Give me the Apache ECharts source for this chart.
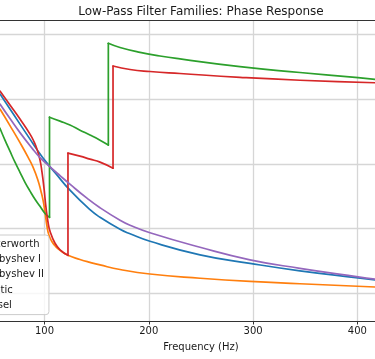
<!DOCTYPE html>
<html>
<head>
<meta charset="utf-8">
<script src="https://cdn.jsdelivr.net/npm/echarts@6/dist/echarts.min.js"></script>
<style>
html,body{margin:0;padding:0;background:#fff;}
#chart{width:375px;height:359px;}
</style>
</head>
<body>
<div id="chart"></div>
<script>
// Frequency (Hz) and unwrapped phase (rad)
var seriesNames = ['Butterworth', 'Chebyshev I', 'Chebyshev II', 'Elliptic', 'Bessel'];
var seriesColors = ['#1f77b4', '#ff7f0e', '#2ca02c', '#d62728', '#9467bd'];

var butterFreq  = [57.3, 66.9, 76.5, 86.1, 92.8, 102.4, 110.1, 124.4, 143.6, 153.2, 172.4, 182.0, 201.1, 249.1, 297.0, 344.9, 400.6, 416.9];
var butterPhase = [-1.845, -2.309, -2.773, -3.236, -3.561, -3.978, -4.272, -4.813, -5.416, -5.649, -6.019, -6.158, -6.390, -6.807, -7.070, -7.301, -7.518, -7.580];

var cheb1Freq  = [57.3, 66.9, 76.5, 84.2, 89.0, 93.7, 96.6, 98.6, 100.5, 102.4, 104.3, 107.2, 111.0, 114.9, 122.5, 134.0, 143.6, 153.2, 172.4, 201.1, 249.1, 297.0, 344.9, 416.9];
var cheb1Phase = [-2.309, -2.819, -3.345, -3.793, -4.102, -4.504, -4.844, -5.122, -5.493, -5.926, -6.204, -6.405, -6.560, -6.668, -6.822, -6.95, -7.04, -7.12, -7.26, -7.40, -7.53, -7.63, -7.70, -7.80];

var cheb2Freq  = [57.3, 62.1, 66.9, 71.7, 76.5, 81.3, 86.1, 90.9, 95.7, 100.5, 104.8, 104.8, 114.9, 124.4, 134.0, 143.6, 153.2, 161.2, 161.2, 172.4, 191.6, 210.7, 229.9, 287.4, 344.9, 400.6, 416.9];
var cheb2Phase = [-2.90, -3.27, -3.61, -3.95, -4.26, -4.57, -4.84, -5.09, -5.31, -5.53, -5.65, -2.56, -2.68, -2.80, -2.96, -3.11, -3.27, -3.42, -0.28, -0.41, -0.56, -0.67, -0.76, -1.00, -1.18, -1.34, -1.39];

var ellipFreq  = [57.3, 66.9, 76.5, 86.1, 89.9, 92.8, 95.7, 97.6, 99.5, 101.4, 103.4, 105.3, 110.1, 114.9, 122.5, 122.5, 134.0, 143.6, 153.2, 165.7, 165.7, 182.0, 201.1, 229.9, 287.4, 344.9, 416.9];
var ellipPhase = [-1.753, -2.186, -2.618, -3.082, -3.314, -3.546, -3.886, -4.257, -4.751, -5.338, -5.802, -6.080, -6.451, -6.652, -6.822, -3.669, -3.762, -3.855, -3.947, -4.133, -0.980, -1.088, -1.150, -1.212, -1.329, -1.419, -1.496];

var besselFreq  = [57.3, 66.9, 76.5, 88.0, 95.7, 102.4, 114.9, 124.4, 140.7, 153.2, 172.4, 182.0, 201.1, 249.1, 297.0, 344.9, 400.6, 416.9];
var besselPhase = [-2.155, -2.603, -3.036, -3.515, -3.808, -4.009, -4.365, -4.628, -5.060, -5.354, -5.740, -5.895, -6.127, -6.575, -6.961, -7.224, -7.487, -7.558];

var xTickStep = 100;
var xMin = 0, xMax = 500;
var yMin = -8.85, yMax = 0.44;

var freqs = [butterFreq, cheb1Freq, cheb2Freq, ellipFreq, besselFreq];
var phases = [butterPhase, cheb1Phase, cheb2Phase, ellipPhase, besselPhase];

// Split each curve where the phase jumps (same frequency twice): smooth pieces + straight vertical jumps
function buildSeries(name, color, fx, py) {
  var out = [];
  var seg = [];
  function pushSeg(data, smooth) {
    out.push({
      name: name, type: 'line', data: data, showSymbol: false, symbol: 'none',
      smooth: smooth, lineStyle: {color: color, width: 1.7, cap: 'round', join: 'round'},
      itemStyle: {color: color}, emphasis: {disabled: true}, clip: true, z: 3
    });
  }
  for (var i = 0; i < fx.length; i++) {
    seg.push([fx[i], py[i]]);
    if (i + 1 < fx.length && fx[i + 1] === fx[i]) {
      pushSeg(seg, 0.5);
      pushSeg([[fx[i], py[i]], [fx[i + 1], py[i + 1]]], false);
      seg = [];
    }
  }
  if (seg.length) pushSeg(seg, 0.5);
  return out;
}

var series = [];
seriesNames.forEach(function (n, i) {
  series = series.concat(buildSeries(n, seriesColors[i], freqs[i], phases[i]));
});

var FONT = '"DejaVu Sans", sans-serif';
var chart = echarts.init(document.getElementById('chart'), null, {renderer: 'canvas'});

chart.setOption({
  animation: false,
  backgroundColor: '#ffffff',
  title: {
    text: 'Low-Pass Filter Families: Phase Response',
    left: 201,
    top: 6,
    textAlign: 'center',
    padding: 0,
    textStyle: {fontFamily: FONT, fontSize: 12, fontWeight: 'normal', color: '#1a1a1a'}
  },
  legend: {
    orient: 'vertical',
    left: -52.5,
    top: 235,
    padding: [4, 5, 4, 6],
    itemWidth: 20,
    itemHeight: 10,
    itemGap: 5.4,
    backgroundColor: 'rgba(255,255,255,0.8)',
    borderColor: '#cccccc',
    borderWidth: 1,
    borderRadius: 3,
    data: seriesNames,
    textStyle: {fontFamily: FONT, fontSize: 10, color: '#1a1a1a'}
  },
  grid: {
    left: -59.8,
    top: 20,
    width: 521.5,
    bottom: 38,
    containLabel: false,
    outerBoundsMode: 'none',
    show: false
  },
  xAxis: [{
    type: 'value',
    position: 'bottom',
    min: xMin,
    max: xMax,
    interval: xTickStep,
    name: 'Frequency (Hz)',
    nameLocation: 'middle',
    nameGap: 21,
    nameTextStyle: {fontFamily: FONT, fontSize: 10, color: '#1a1a1a'},
    axisLine: {show: true, onZero: false, lineStyle: {color: '#333', width: 1}},
    axisTick: {show: true, inside: false, length: 3.5, lineStyle: {color: '#333', width: 1}},
    axisLabel: {fontFamily: FONT, fontSize: 10, color: '#1a1a1a', margin: 5},
    splitLine: {show: true, showMinLine: false, showMaxLine: false, lineStyle: {color: '#d6d6d6', width: 1.3}}
  }, {
    type: 'value',
    position: 'top',
    min: xMin,
    max: xMax,
    interval: xTickStep,
    axisLine: {show: true, onZero: false, lineStyle: {color: '#333', width: 1}},
    axisTick: {show: false},
    axisLabel: {show: false},
    splitLine: {show: false}
  }],
  yAxis: {
    type: 'value',
    min: yMin,
    max: yMax,
    splitNumber: 5,
    axisLine: {show: false},
    axisTick: {show: false},
    axisLabel: {show: false},
    splitLine: {show: true, showMinLine: false, showMaxLine: false, lineStyle: {color: '#d6d6d6', width: 1.3}}
  },
  series: series
});
</script>
</body>
</html>
